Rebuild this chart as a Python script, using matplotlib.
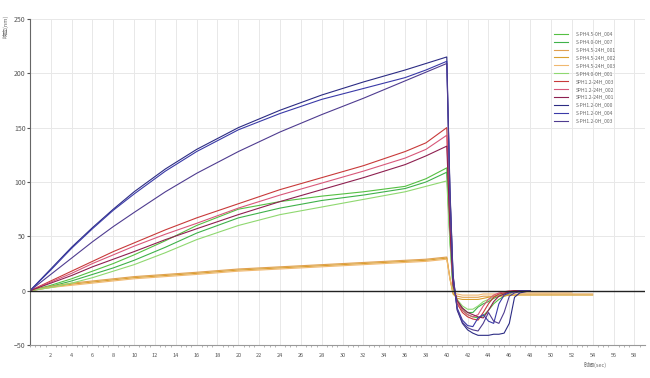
import matplotlib.pyplot as plt
import numpy as np

plt.rcParams["font.family"] = ["Noto Sans CJK SC", "DejaVu Sans"]

# association phase (shared time grid)
assoc_t = [0, 2, 4, 6, 8, 10, 13, 16, 20, 24, 28, 32, 36, 38, 40]
# dissociation phase (shared time grid)
diss_t = [40, 40.3, 40.6, 41, 41.5, 42, 42.5, 43, 43.5, 44, 44.5, 45, 45.5, 46, 46.5, 47, 48]

labels = [
    "S-PH4.5-0H_004", "S-PH4.0-0H_007", "S-PH4.5-24H_001", "S-PH4.5-24H_002",
    "S-PH4.5-24H_003", "S-PH4.0-0H_001", "SPH1.2-24H_003", "SPH1.2-24H_002",
    "SPH1.2-24H_001", "S-PH1.2-0H_000", "S-PH1.2-0H_004", "S-PH1.2-0H_003",
]
line_colors = [
    "#55c043", "#3fb24a", "#e0a050", "#d9a030", "#f0b870", "#8fd870",
    "#c83a3a", "#d8587a", "#8e2050", "#2c2c84", "#3a3aa8", "#4f3c90",
]

assoc_vals = [
    [0, 5, 11, 18, 25, 33, 46, 60, 75, 82, 87, 91, 96, 103, 113],
    [0, 4, 9, 15, 21, 28, 40, 53, 67, 76, 83, 88, 94, 100, 109],
    [0, 4, 7, 9, 11, 13, 15, 17, 20, 22, 24, 26, 28, 29, 31],
    [0, 3, 6, 8, 10, 12, 14, 16, 19, 21, 23, 25, 27, 28, 30],
    [0, 3, 5, 7, 9, 11, 13, 15, 18, 20, 22, 24, 26, 27, 29],
    [0, 3, 7, 12, 18, 24, 35, 47, 60, 70, 77, 84, 91, 96, 101],
    [0, 9, 18, 27, 36, 44, 56, 67, 80, 93, 104, 115, 128, 136, 150],
    [0, 8, 16, 25, 33, 41, 52, 62, 76, 88, 99, 110, 122, 130, 143],
    [0, 7, 14, 22, 29, 36, 47, 57, 70, 82, 93, 104, 116, 124, 133],
    [0, 20, 40, 58, 75, 91, 112, 130, 150, 166, 180, 192, 203, 209, 215],
    [0, 19, 39, 57, 74, 89, 110, 128, 148, 163, 176, 186, 196, 203, 211],
    [0, 15, 30, 45, 59, 72, 91, 108, 128, 146, 162, 177, 193, 201, 209],
]

diss_vals = [
    [113, 50, 3, -10, -18, -22, -24, -25, -23, -18, -12, -8, -5, -3, -1, 0, 0],
    [109, 48, 2, -9, -16, -20, -20, -15, -12, -10, -7, -5, -3, -1, 0, 0, 0],
    [31, 12, -2, -5, -6, -6, -6, -6, -5, -5, -5, -4, -4, -4, -4, -3, -3],
    [30, 11, -3, -7, -8, -8, -8, -8, -7, -6, -5, -5, -5, -4, -4, -4, -4],
    [29, 11, -1, -3, -4, -4, -4, -4, -3, -3, -3, -3, -2, -2, -2, -2, -2],
    [101, 44, 2, -8, -14, -17, -17, -14, -10, -8, -6, -4, -2, -1, 0, 0, 0],
    [150, 65, 8, -12, -20, -24, -26, -27, -20, -12, -6, -3, -2, -1, 0, 0, 0],
    [142, 62, 6, -10, -18, -22, -24, -22, -14, -8, -4, -2, -1, 0, 0, 0, 0],
    [133, 58, 5, -9, -16, -20, -22, -24, -25, -18, -10, -5, -3, -1, 0, 0, 0],
    [215, 95, 15, -18, -30, -36, -39, -41, -41, -41, -40, -40, -39, -30, -6, -2, 0],
    [211, 90, 12, -16, -27, -32, -33, -25, -22, -28, -30, -12, -4, -2, -1, 0, 0],
    [209, 92, 14, -17, -29, -34, -36, -37, -30, -20, -28, -30, -20, -5, -2, -1, 0],
]

# orange curves keep going a bit longer
tail_t = [50, 52, 54]
tail_vals = {2: [-3, -3, -3], 3: [-4, -4, -4], 4: [-2, -2]}

fig = plt.figure(figsize=(6.5, 3.78), dpi=100)
ax = fig.add_axes([0.046, 0.087, 0.946, 0.863])

for i, lab in enumerate(labels):
    t = assoc_t + diss_t[1:]
    v = assoc_vals[i] + diss_vals[i][1:]
    if i in tail_vals:
        extra = tail_vals[i]
        t = t + tail_t[:len(extra)]
        v = v + extra
    ax.plot(t, v, color=line_colors[i], lw=0.8, label=lab)

ax.axhline(0, color="#222222", lw=1.0, zorder=5)

ax.set_xlim(0, 59)
ax.set_ylim(-50, 250)
ax.set_xticks(np.arange(2, 59, 2))
ax.set_xticks(np.arange(0, 59, 0.5), minor=True)
ax.set_yticks(np.arange(-50, 251, 50))
ax.tick_params(axis="x", labelsize=4, colors="#555555", length=0, pad=6)
ax.tick_params(axis="x", which="minor", length=1.5, color="#aaaaaa")
ax.tick_params(axis="y", labelsize=5, colors="#555555", length=2, pad=1)
ax.grid(True, which="major", color="#e8e8e8", lw=0.7)
ax.set_axisbelow(True)

for side in ["top", "right"]:
    ax.spines[side].set_visible(False)
ax.spines["left"].set_color("#666666")
ax.spines["bottom"].set_color("#999999")
ax.spines["left"].set_linewidth(0.8)
ax.spines["bottom"].set_linewidth(0.8)

fig.text(0.915, 0.03, "时间(sec)", fontsize=4, color="#666666", ha="center")
fig.text(0.009, 0.93, "响应(nm)", fontsize=4, color="#666666", rotation=90, ha="center", va="center")

ax.legend(loc="upper left", bbox_to_anchor=(0.845, 0.975), fontsize=3.5, frameon=False,
          handlelength=3, labelspacing=0.6, handletextpad=1.5, labelcolor="#666666")

fig.savefig("out.png", dpi=100)
